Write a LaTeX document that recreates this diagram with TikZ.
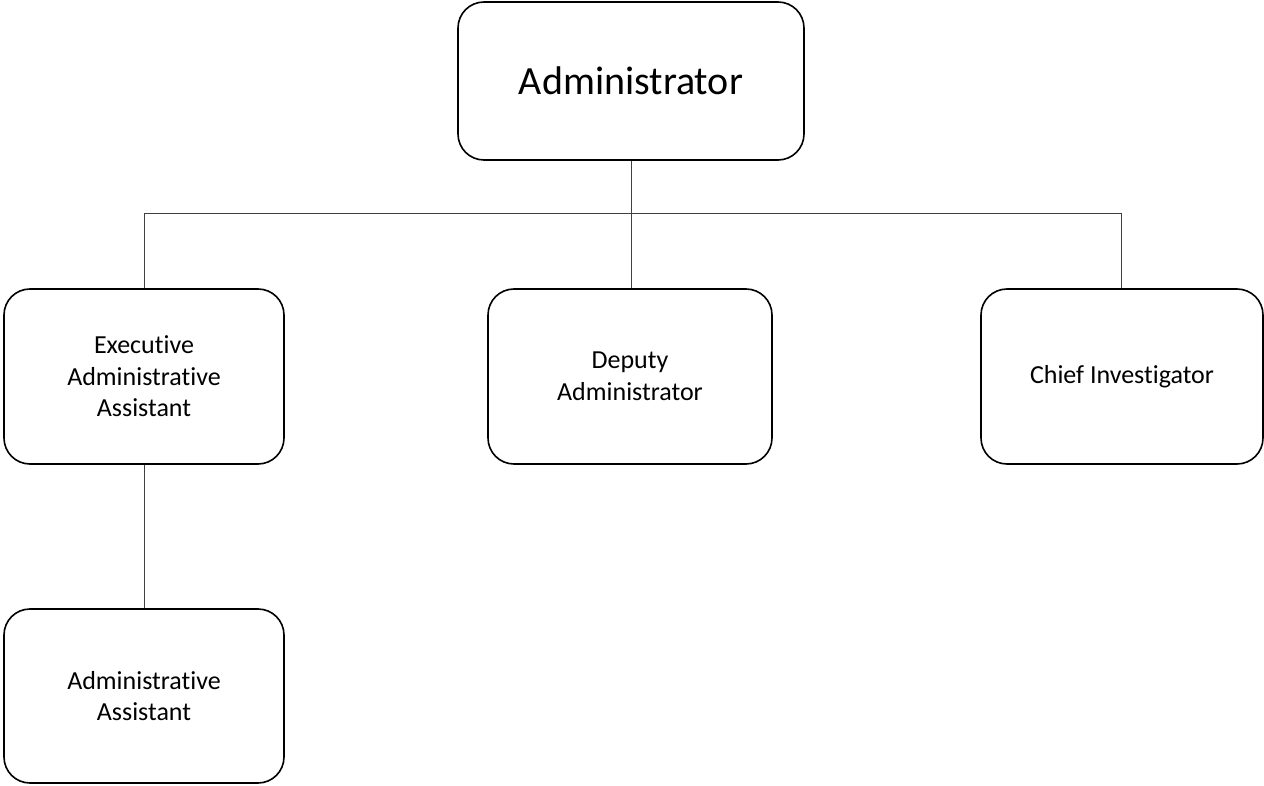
\documentclass[tikz,border=0pt]{standalone}
\usepackage{fontspec}
\setmainfont{Carlito}[Ligatures=CommonOff]
\begin{document}
\begin{tikzpicture}[x=1pt,y=-1pt,
  orgbox/.style={draw=black, line width=1.6pt, rounded corners=26pt,
    align=center, inner sep=0pt, fill=white,
    font={\fontsize{26}{31.5}\selectfont}},
  link/.style={draw=black!75, line width=0.9pt}]
  \useasboundingbox (0,0) rectangle (1264,786);
  \fill[white] (0,0) rectangle (1264,786);

  % boxes
  \node[orgbox, minimum width=346pt, minimum height=158pt,
        font={\fontsize{40}{48}\selectfont}] (top) at (631,81) {Administrator};
  \node[orgbox, minimum width=280pt, minimum height=175pt] (exec) at (144,376.5)
        {Executive\\Administrative\\Assistant};
  \node[orgbox, minimum width=284pt, minimum height=175pt] (dep) at (630,376.5)
        {Deputy\\Administrator};
  \node[orgbox, minimum width=282pt, minimum height=175pt] (chief) at (1122,376.5)
        {Chief Investigator};
  \node[orgbox, minimum width=280pt, minimum height=174pt] (aa) at (144,696)
        {Administrative\\Assistant};

  % connectors
  \coordinate (busL) at (144,213);
  \coordinate (busR) at (1121,213);
  \draw[link] (busL) -- (busR);
  \draw[link] (top.south) -- (top.south |- dep.north);
  \draw[link] (busL) -- (exec.north);
  \draw[link] (busR) -- (busR |- chief.north);
  \draw[link] (exec.south) -- (aa.north);
\end{tikzpicture}
\end{document}
